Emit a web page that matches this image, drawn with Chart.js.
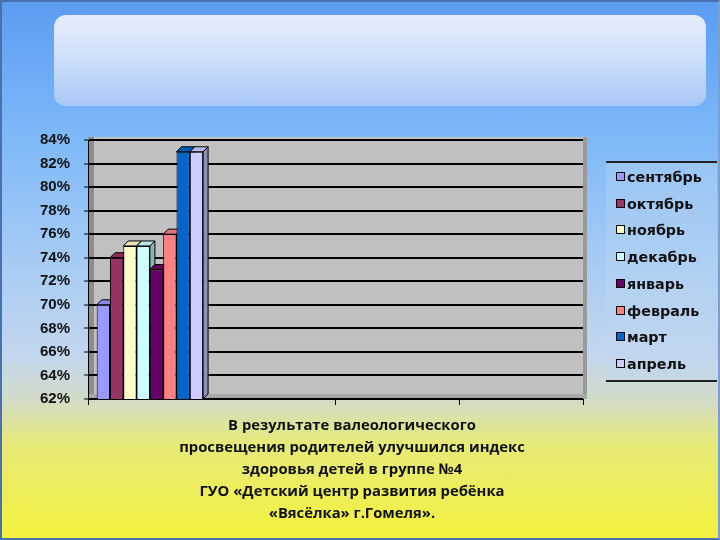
<!DOCTYPE html>
<html>
<head>
<meta charset="utf-8">
<script src="https://cdn.jsdelivr.net/npm/chart.js@4"></script>
<style>
    html, body { margin: 0; padding: 0; }
    body {
        width: 720px; height: 540px; position: relative; overflow: hidden;
        background: linear-gradient(to bottom, #5b9cf2 0%, #7db8f8 25%, #a9cdf4 50%, #c3d6ee 66%, #d2dcc8 74%, #e6ea7a 82%, #f4f23c 100%);
        font-family: "Liberation Sans", Arial, sans-serif;
    }
    .frame { position: absolute; left: 0; top: 0; width: 716px; height: 536px; border: 2px solid #4a70b0; border-right-color: #7d9fd0; }
    .title-box {
        position: absolute; left: 54px; top: 15px; width: 652px; height: 91px; border-radius: 12px;
        background: linear-gradient(to bottom, #e4ecfc 0%, #cfe0fb 45%, #a9c8f6 100%);
    }
    #chart { position: absolute; left: 0; top: 0; }
    .legend {
        position: absolute; left: 606px; top: 161px; width: 111px; height: 217px;
        border-top: 2px solid #222; border-bottom: 2px solid #222;
        background: rgba(190, 215, 240, 0.35);
    }
    .legend div { position: absolute; left: 10px; font: bold 14.3px "DejaVu Sans", Verdana, sans-serif; color: #111; white-space: nowrap; }
    .legend span { display: inline-block; width: 7px; height: 7px; border: 1px solid #000; margin-right: 2px; vertical-align: 1px; }
    .caption {
        position: absolute; left: 150px; top: 413px; width: 404px; text-align: center;
        font: bold 14.8px "Open Sans", sans-serif; line-height: 22px; color: #111;
    }
</style>
</head>
<body>
<div class="frame"></div>
<div class="title-box"></div>
<canvas id="chart" width="720" height="540"></canvas>
<div class="legend" id="legend"></div>
<div class="caption">В результате валеологического<br>просвещения родителей улучшился индекс<br>здоровья детей в группе №4<br>ГУО «Детский центр развития ребёнка<br>«Вясёлка» г.Гомеля».</div>
<script>
// Data
const categories = ['', '', '', ''];
const months = ['сентябрь', 'октябрь', 'ноябрь', 'декабрь', 'январь', 'февраль', 'март', 'апрель'];
const monthValues = [70, 74, 75, 75, 73, 76, 83, 83];
const monthColors = ['#9999ff', '#993366', '#ffffcc', '#ccffff', '#660066', '#ff8080', '#0066cc', '#ccccff'];
const yTicks = [62, 64, 66, 68, 70, 72, 74, 76, 78, 80, 82, 84];

// Build legend
const legendEl = document.getElementById('legend');
months.forEach(function(m, i) {
    const item = document.createElement('div');
    item.style.top = (6 + i * 26.7) + 'px';
    item.innerHTML = '<span style="background:' + monthColors[i] + '"></span>' + m;
    legendEl.appendChild(item);
});

function shade(hex, f) {
    const n = parseInt(hex.slice(1), 16);
    const r = Math.round(((n >> 16) & 255) * f);
    const g = Math.round(((n >> 8) & 255) * f);
    const b = Math.round((n & 255) * f);
    return 'rgb(' + r + ',' + g + ',' + b + ')';
}

// Gray walls behind the plot
const wallsPlugin = {
    id: 'walls',
    beforeDraw(chart) {
        const a = chart.chartArea;
        const ctx = chart.ctx;
        ctx.save();
        ctx.fillStyle = '#c0c0c0';
        ctx.fillRect(a.left, a.top - 3, a.right - a.left + 4, a.bottom - a.top + 3);
        ctx.fillStyle = '#8c8c8c';
        ctx.fillRect(a.left, a.top - 3, 6, a.bottom - a.top + 3);
        ctx.fillStyle = '#9a9a9a';
        ctx.fillRect(a.right, a.top - 3, 4, a.bottom - a.top + 3);
        ctx.fillStyle = '#a8a8a8';
        ctx.fillRect(a.left, a.bottom - 5, a.right - a.left + 4, 5);
        ctx.restore();
    }
};

// 3D top and side faces from bar elements
const depthPlugin = {
    id: 'depth',
    beforeDatasetsDraw(chart) {
        const ctx = chart.ctx;
        const bottom = chart.chartArea.bottom;
        const d = 5;
        ctx.save();
        chart.data.datasets.forEach(function(ds, i) {
            chart.getDatasetMeta(i).data.forEach(function(bar, j) {
                if (ds.data[j] == null) return;
                const l = bar.x - bar.width / 2, r = bar.x + bar.width / 2;
                const base = Math.min(bar.base, bottom);
                ctx.lineWidth = 1;
                ctx.strokeStyle = '#000';
                ctx.fillStyle = shade(monthColors[i], 0.7);
                ctx.beginPath();
                ctx.moveTo(r, bar.y); ctx.lineTo(r + d, bar.y - d);
                ctx.lineTo(r + d, base - d); ctx.lineTo(r, base);
                ctx.closePath(); ctx.fill(); ctx.stroke();
                ctx.fillStyle = shade(monthColors[i], 0.9);
                ctx.beginPath();
                ctx.moveTo(l, bar.y); ctx.lineTo(l + d, bar.y - d);
                ctx.lineTo(r + d, bar.y - d); ctx.lineTo(r, bar.y);
                ctx.closePath(); ctx.fill(); ctx.stroke();
            });
        });
        ctx.restore();
    }
};

new Chart(document.getElementById('chart'), {
    type: 'bar',
    data: {
        labels: categories,
        datasets: months.map(function(m, i) {
            return {
                label: m,
                data: [monthValues[i], null, null, null],
                backgroundColor: monthColors[i],
                borderColor: '#000',
                borderWidth: 1,
                barPercentage: 1,
                categoryPercentage: 0.86
            };
        })
    },
    options: {
        responsive: false,
        animation: false,
        layout: { padding: { left: 30, top: 140, right: 137, bottom: 131 } },
        plugins: { legend: { display: false }, tooltip: { enabled: false } },
        scales: {
            x: {
                grid: {
                    display: true, drawOnChartArea: false, tickLength: 6,
                    tickColor: function(c) { return c.index === 1 ? 'rgba(0,0,0,0)' : '#000'; },
                    offset: true
                },
                border: { color: '#000', width: 1 },
                ticks: { display: false },
                afterFit: function(s) { s.height = 10; }
            },
            y: {
                min: 62, max: 84,
                afterBuildTicks: function(s) { s.ticks = yTicks.map(function(v) { return { value: v }; }); },
                grid: { color: '#000', lineWidth: 2, tickLength: 4, tickColor: '#000', tickWidth: 1 },
                border: { color: '#000', width: 1 },
                ticks: {
                    color: '#111', padding: 14,
                    font: { family: '"Liberation Sans", Arial, sans-serif', size: 15, weight: 'bold' },
                    callback: function(v) { return v + '%'; }
                },
                afterFit: function(s) { s.width = 58; }
            }
        }
    },
    plugins: [wallsPlugin, depthPlugin]
});
</script>
</body>
</html>
